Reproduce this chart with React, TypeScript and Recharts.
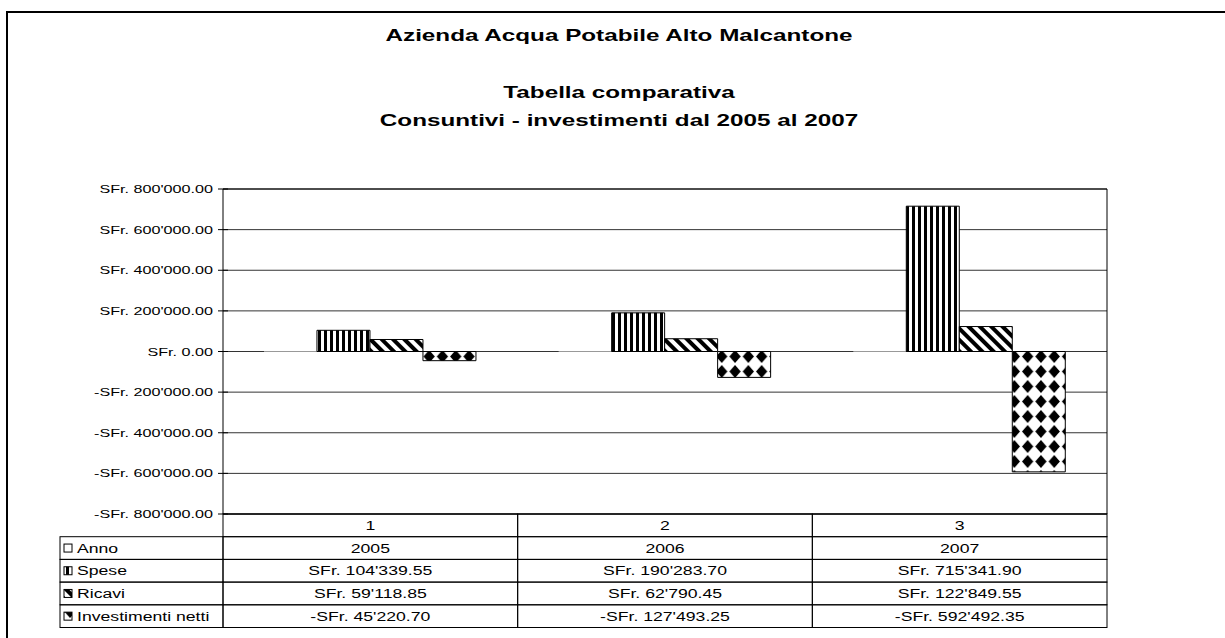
import { BarChart, Bar, XAxis, YAxis, CartesianGrid, ReferenceLine } from 'recharts';

const categories = ['1', '2', '3'];
const anno = [2005, 2006, 2007];
const spese = [104339.55, 190283.7, 715341.9];
const ricavi = [59118.85, 62790.45, 122849.55];
const investimenti = [-45220.7, -127493.25, -592492.35];
const yTicks = [-800000, -600000, -400000, -200000, 0, 200000, 400000, 600000, 800000];
const seriesNames = ['Anno', 'Spese', 'Ricavi', 'Investimenti netti'];

const W = 1225;
const H = 638;
const PLOT_L = 223;
const PLOT_R = 1107;
const PLOT_T = 189;
const PLOT_B = 514;
const ROW_H = 22.7;
const LABEL_L = 60;
const BAND = (PLOT_R - PLOT_L) / categories.length;
const FONT = '"Liberation Sans", Arial, sans-serif';
const SX = 1.47; // the original text is stretched sideways

const data = categories.map((c, i) => ({
  cat: c,
  anno: anno[i],
  spese: spese[i],
  ricavi: ricavi[i],
  investimenti: investimenti[i],
}));

const fills = ['#ffffff', 'url(#pSpese)', 'url(#pRicavi)', 'url(#pInv)'];

const sfr = (v: number) => {
  const [i, d] = Math.abs(v).toFixed(2).split('.');
  return (v < 0 ? '-' : '') + 'SFr. ' + i.replace(/\B(?=(\d{3})+(?!\d))/g, "'") + '.' + d;
};

const SText = ({ x, y, anchor = 'start', size = 11, bold = false, children }: any) => (
  <text
    transform={`translate(${x},${y}) scale(${SX},1)`}
    textAnchor={anchor}
    fontFamily={FONT}
    fontSize={size}
    fontWeight={bold ? 'bold' : 'normal'}
    fill="#000"
  >
    {children}
  </text>
);

const YTick = (props: any) => {
  const { y, payload } = props;
  return (
    <g>
      <line x1={PLOT_L - 5} x2={PLOT_L + 5} y1={y} y2={y} stroke="#000" />
      <SText x={PLOT_L - 10} y={y + 4} anchor="end">
        {sfr(payload.value)}
      </SText>
    </g>
  );
};

const TableTick = (props: any) => {
  const { x, y, index } = props;
  const left = x - BAND / 2;
  const rows = [
    categories[index],
    String(anno[index]),
    sfr(spese[index]),
    sfr(ricavi[index]),
    sfr(investimenti[index]),
  ];
  return (
    <g>
      {rows.map((t, r) => (
        <g key={r}>
          <rect x={left} y={y + r * ROW_H} width={BAND} height={ROW_H} fill="none" stroke="#000" />
          <SText x={x} y={y + r * ROW_H + ROW_H / 2 + 4.5} anchor="middle" size={12}>
            {t}
          </SText>
        </g>
      ))}
      {index === 0 &&
        seriesNames.map((n, r) => (
          <g key={n}>
            <rect
              x={LABEL_L}
              y={y + (r + 1) * ROW_H}
              width={left - LABEL_L}
              height={ROW_H}
              fill="none"
              stroke="#000"
            />
            <rect
              x={LABEL_L + 4}
              y={y + (r + 1) * ROW_H + ROW_H / 2 - 4}
              width={8}
              height={8}
              fill={fills[r]}
              stroke="#000"
            />
            <SText x={LABEL_L + 17} y={y + (r + 1) * ROW_H + ROW_H / 2 + 4.5} size={12}>
              {n}
            </SText>
          </g>
        ))}
    </g>
  );
};

export default function App() {
  return (
    <div style={{ position: 'absolute', left: 0, top: 0, width: W, height: H, background: '#fff', overflow: 'hidden' }}>
      <svg width={0} height={0} style={{ position: 'absolute' }}>
        <defs>
          <pattern id="pSpese" width={6} height={6} patternUnits="userSpaceOnUse">
            <rect width={6} height={6} fill="#fff" />
            <rect width={3} height={6} fill="#000" />
          </pattern>
          <pattern id="pRicavi" width={8} height={8} patternUnits="userSpaceOnUse" patternTransform="rotate(45)">
            <rect width={8} height={8} fill="#fff" />
            <rect width={8} height={4} fill="#000" />
          </pattern>
          <pattern id="pInv" width={13.3} height={15} patternUnits="userSpaceOnUse" x={PLOT_L} y={PLOT_B}>
            <rect width={13.3} height={15} fill="#fff" />
            <polygon points="6.65,1 12.3,7.5 6.65,14 1,7.5" fill="#000" />
          </pattern>
        </defs>
      </svg>
      <svg width={W} height={H} style={{ position: 'absolute', left: 0, top: 0 }}>
        <rect x={7} y={12} width={W + 20} height={H + 20} fill="none" stroke="#000" strokeWidth={2} />
        <SText x={619} y={41} anchor="middle" size={16.5} bold>
          Azienda Acqua Potabile Alto Malcantone
        </SText>
        <SText x={619} y={98} anchor="middle" size={16.5} bold>
          Tabella comparativa
        </SText>
        <SText x={619} y={126} anchor="middle" size={16.5} bold>
          Consuntivi - investimenti dal 2005 al 2007
        </SText>
      </svg>
      <div style={{ position: 'absolute', left: 0, top: 0 }}>
        <BarChart
          width={W}
          height={H}
          data={data}
          margin={{ top: PLOT_T, right: W - PLOT_R, bottom: H - PLOT_B - 114, left: 0 }}
          barCategoryGap="13.9%"
          barGap={0}
        >
          <CartesianGrid horizontal vertical={false} stroke="#000" strokeOpacity={0.8} />
          <XAxis
            dataKey="cat"
            height={114}
            tickSize={0}
            tickMargin={0}
            tickLine={false}
            axisLine={{ stroke: '#000' }}
            tick={<TableTick />}
            interval={0}
          />
          <YAxis
            width={PLOT_L}
            domain={[-800000, 800000]}
            ticks={yTicks}
            interval={0}
            tickLine={false}
            axisLine={{ stroke: '#000' }}
            tick={<YTick />}
          />
          <ReferenceLine y={800000} stroke="#000" />
          <Bar dataKey="anno" name="Anno" fill={fills[0]} isAnimationActive={false} />
          <Bar dataKey="spese" name="Spese" fill={fills[1]} stroke="#000" isAnimationActive={false} />
          <Bar dataKey="ricavi" name="Ricavi" fill={fills[2]} stroke="#000" isAnimationActive={false} />
          <Bar dataKey="investimenti" name="Investimenti netti" fill={fills[3]} stroke="#000" isAnimationActive={false} />
        </BarChart>
      </div>
      <svg width={W} height={H} style={{ position: 'absolute', left: 0, top: 0, pointerEvents: 'none' }}>
        <line x1={PLOT_R} x2={PLOT_R} y1={PLOT_T} y2={PLOT_B} stroke="#000" />
      </svg>
    </div>
  );
}
